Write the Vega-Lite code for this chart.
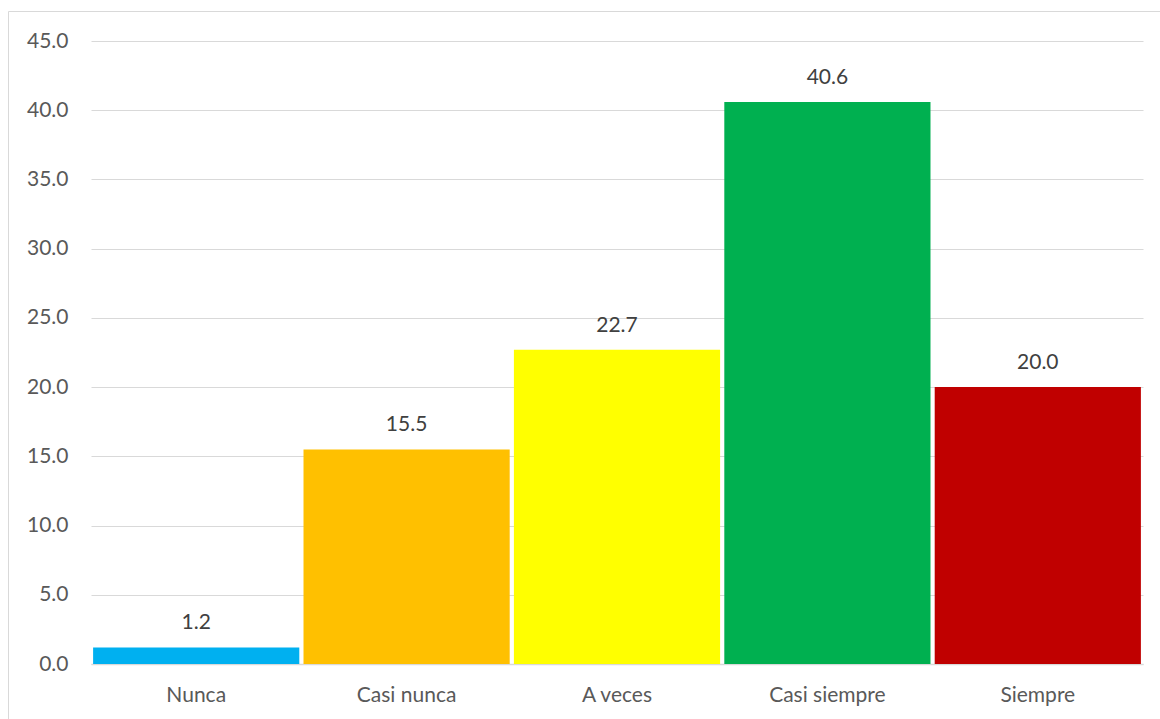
{
  "$schema": "https://vega.github.io/schema/vega-lite/v6.json",
  "width": 1155,
  "height": 711,
  "autosize": {"type": "none"},
  "padding": {"left": 8, "top": 11, "right": -3, "bottom": -3},
  "background": "white",
  "config": {
    "view": {"stroke": "#d9d9d9", "strokeWidth": 1},
    "font": "Lato"
  },
  "data": {
    "values": [
      {"categoria": "Nunca", "valor": 1.2},
      {"categoria": "Casi nunca", "valor": 15.5},
      {"categoria": "A veces", "valor": 22.7},
      {"categoria": "Casi siempre", "valor": 40.6},
      {"categoria": "Siempre", "valor": 20.0}
    ]
  },
  "encoding": {
    "x": {
      "field": "categoria",
      "type": "nominal",
      "sort": null,
      "scale": {"range": [83, 1135], "paddingInner": 0.02, "paddingOuter": 0.01},
      "axis": {
        "title": null,
        "orient": "bottom",
        "offset": -58,
        "labelAngle": 0,
        "labelFont": "Lato",
        "labelFontSize": 21,
        "labelColor": "#595959",
        "labelPadding": 20,
        "ticks": false,
        "tickSize": 0,
        "domainColor": "#d9d9d9",
        "domainWidth": 1.5,
        "grid": false
      }
    },
    "y": {
      "field": "valor",
      "type": "quantitative",
      "scale": {"domain": [0, 45], "range": [653, 30], "nice": false, "zero": true},
      "axis": {
        "title": null,
        "orient": "left",
        "offset": -83,
        "values": [0, 5, 10, 15, 20, 25, 30, 35, 40, 45],
        "format": ".1f",
        "labelFont": "Lato",
        "labelFontSize": 21,
        "labelColor": "#595959",
        "labelPadding": 23,
        "ticks": false,
        "tickSize": 0,
        "domain": false,
        "grid": true,
        "gridColor": "#d9d9d9",
        "gridWidth": 1
      }
    }
  },
  "layer": [
    {
      "mark": {"type": "bar"},
      "encoding": {
        "color": {
          "field": "categoria",
          "type": "nominal",
          "legend": null,
          "scale": {
            "domain": ["Nunca", "Casi nunca", "A veces", "Casi siempre", "Siempre"],
            "range": ["#00B0F0", "#FFC000", "#FFFF00", "#00B050", "#C00000"]
          }
        }
      }
    },
    {
      "mark": {"type": "text", "baseline": "alphabetic", "dy": -18, "font": "Lato", "fontSize": 21, "color": "#404040"},
      "encoding": {
        "text": {"field": "valor", "type": "quantitative", "format": ".1f"}
      }
    }
  ]
}
